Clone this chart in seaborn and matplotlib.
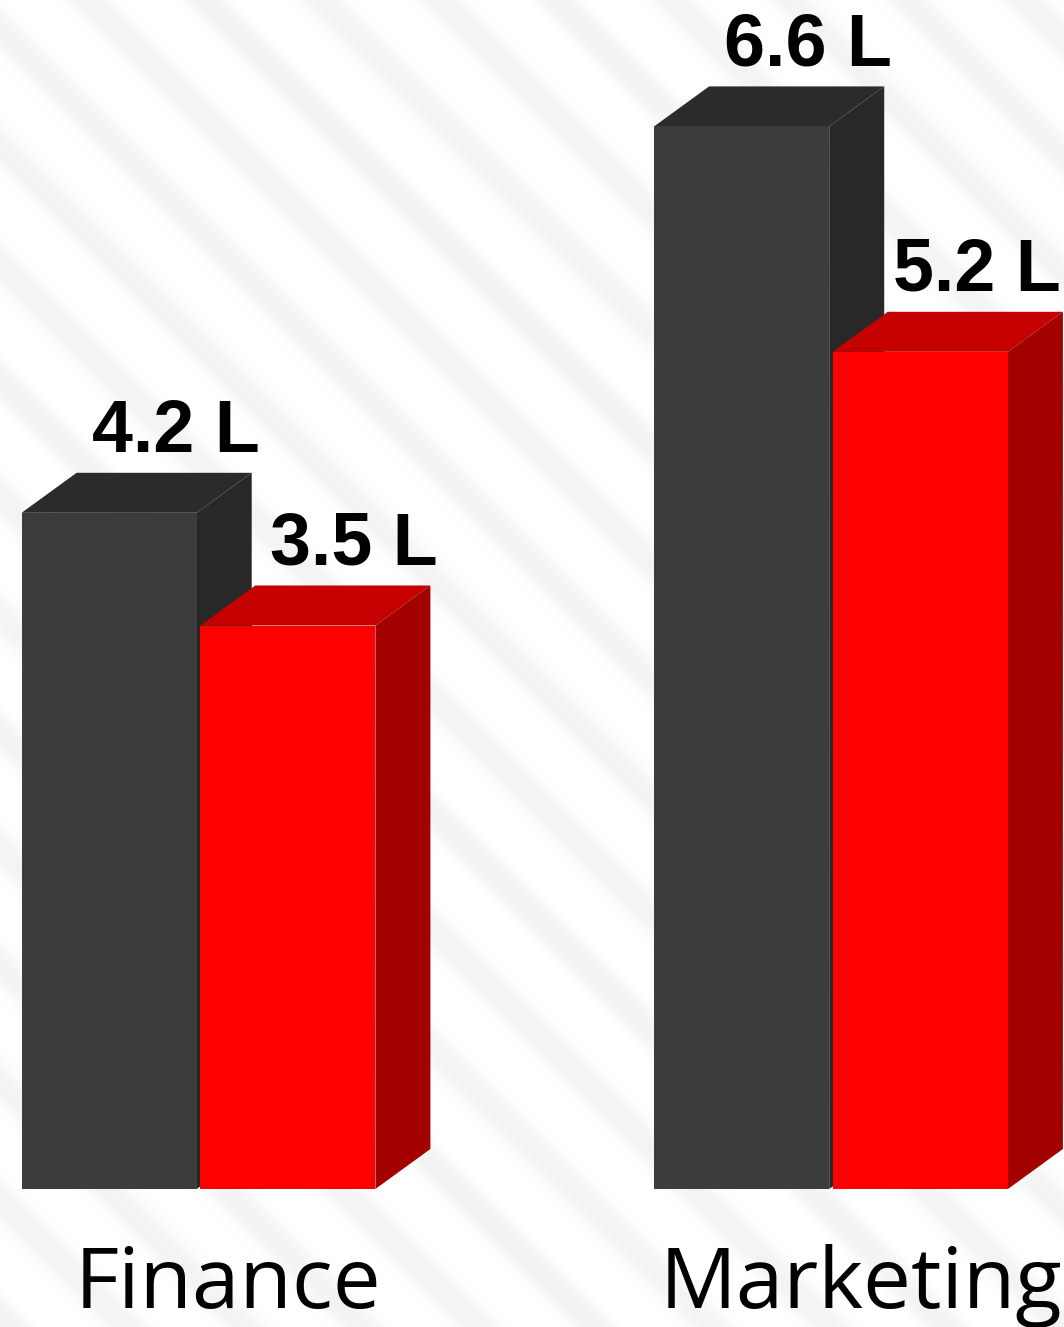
import numpy as np
import pandas as pd
import matplotlib
matplotlib.use("Agg")
import matplotlib.pyplot as plt
import seaborn as sns
from matplotlib.patches import Polygon
from matplotlib.transforms import ScaledTranslation

# ---- data ----
departments = ["Finance", "Marketing"]
series_names = ["Series 1", "Series 2"]
values_series1 = [4.2, 6.6]
values_series2 = [3.5, 5.2]
labels_series1 = ["4.2 L", "6.6 L"]
labels_series2 = ["3.5 L", "5.2 L"]

front_colors = ["#3c3c3c", "#ff0000"]
top_colors = ["#2b2b2b", "#c40000"]
side_colors = ["#282828", "#a30000"]

df = pd.DataFrame({
    "department": departments * 2,
    "series": [series_names[0]] * 2 + [series_names[1]] * 2,
    "value": values_series1 + values_series2,
    "label": labels_series1 + labels_series2,
})

sns.set_theme(style="white")

W, H = 1064, 1327
fig = plt.figure(figsize=(W / 100, H / 100), dpi=100)
ax = fig.add_axes([0, 0, 1, 1])

# axis limits (data units)
px_per_cat = 632.5
px_per_val = 161.0
x_left = -198.5 / px_per_cat
x_right = (W - 198.5) / px_per_cat
y_bottom = -(H - 1189) / px_per_val
y_top = 1189 / px_per_val

# background stripes
yy, xx = np.mgrid[0:H, 0:W]
phase = ((xx - yy) % 117) / 117.0
band = 0.5 + 0.5 * np.cos(2 * np.pi * (phase - 0.75))
band = np.clip((band - 0.35) / 0.65, 0, 1) ** 1.5
gray = 1.0 - 0.045 * band
bg = np.dstack([gray, gray, gray])
ax.imshow(bg, extent=(x_left, x_right, y_bottom, y_top), aspect="auto",
          zorder=0, interpolation="bilinear")

sns.barplot(data=df, x="department", y="value", hue="series",
            palette=front_colors, width=0.565, gap=0.02, dodge=True,
            saturation=1, legend=False, ax=ax, linewidth=0)

dx = 55 / px_per_cat
dy = 40 / px_per_val

ax.set_xlim(x_left, x_right)
ax.set_ylim(y_bottom, y_top)
ax.axis("off")

n_cat = len(departments)
patch_list = list(ax.patches)
value_texts = []
for i, p in enumerate(patch_list):
    h_idx = i // n_cat
    c_idx = i % n_cat
    x0 = p.get_x()
    w = p.get_width()
    x1 = x0 + w
    h = p.get_height()
    z = 2 + h_idx
    p.set_zorder(z + 0.5)
    side = Polygon([(x1, 0), (x1 + dx, dy), (x1 + dx, h + dy), (x1, h)],
                   closed=True, facecolor=side_colors[h_idx], edgecolor="none", zorder=z)
    top = Polygon([(x0, h), (x0 + dx, h + dy), (x1 + dx, h + dy), (x1, h)],
                  closed=True, facecolor=top_colors[h_idx], edgecolor="none", zorder=z)
    ax.add_patch(side)
    ax.add_patch(top)
    lab = (labels_series1 if h_idx == 0 else labels_series2)[c_idx]
    t = ax.text(x0 + w / 2 + 0.105, h + dy + 0.13, lab, ha="center", va="baseline",
                fontsize=53, fontweight="bold", family=["Liberation Sans", "DejaVu Sans"],
                color="#000000", zorder=10)
    value_texts.append(t)

for i, name in enumerate(departments):
    ax.text(i + 0.047, -0.74, name, ha="center", va="baseline", fontsize=61.5,
            family=["Open Sans", "DejaVu Sans"], color="#000000", zorder=10)

# keep value labels inside the canvas
fig.canvas.draw()
renderer = fig.canvas.get_renderer()
for t in value_texts:
    bb = t.get_window_extent(renderer)
    overflow = bb.x1 - (W - 3)
    if overflow > 0:
        t.set_transform(t.get_transform() + ScaledTranslation(-overflow / 100, 0, fig.dpi_scale_trans))

fig.savefig("out.png", dpi=100)
